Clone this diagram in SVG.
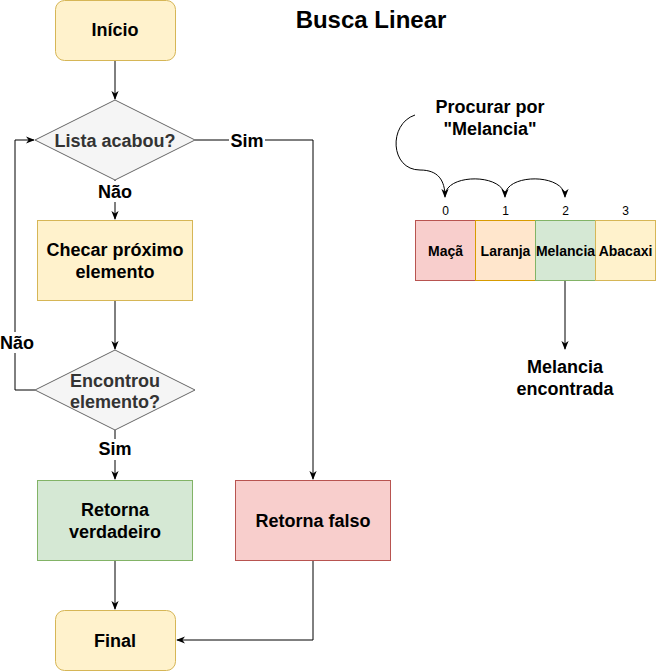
<svg xmlns="http://www.w3.org/2000/svg" width="657" height="672" viewBox="0 0 657 672">
<style>
text{font-family:"Liberation Sans",Arial,Helvetica,sans-serif;font-weight:bold;font-size:18px;fill:#000;text-anchor:middle}
.dark{fill:#333333}
.small{font-size:14px}
.idx{font-size:12px;font-weight:normal}
.title{font-size:24px}
.yel{fill:#fff2cc;stroke:#d6b656;stroke-width:1}
.gry{fill:#f5f5f5;stroke:#666666;stroke-width:1}
.grn{fill:#d5e8d4;stroke:#82b366;stroke-width:1}
.red{fill:#f8cecc;stroke:#b85450;stroke-width:1}
.org{fill:#ffe6cc;stroke:#d79b00;stroke-width:1}
.edge{fill:none;stroke:#000;stroke-width:1;marker-end:url(#arr)}
.lbl{fill:#fff;stroke:none}
</style>
<defs>
<marker id="arr" viewBox="0 0 10 10" refX="9" refY="5" markerWidth="9" markerHeight="9" markerUnits="userSpaceOnUse" orient="auto">
<path d="M0,1 L10,5 L0,9 L3,5 Z" fill="#000"/>
</marker>
</defs>
<rect width="657" height="672" fill="#fff"/>
<text class="title" x="371" y="28">Busca Linear</text>
<g id="connectors">
<path class="edge" d="M115,60 L115,99"/>
<path class="edge" d="M115,180 L115,219"/>
<path class="edge" d="M115,300 L115,349"/>
<path class="edge" d="M115,430 L115,479"/>
<path class="edge" d="M115,560 L115,609"/>
<path class="edge" d="M195,140 L313,140 L313,479"/>
<path class="edge" d="M313,560 L313,640 L177,640"/>
<path class="edge" d="M35,390 L15,390 L15,140 L34,140"/>
<path class="edge" d="M415,115 C388,124 390,170 420,170 C438,170 445,180 445,197"/>
<path class="edge" d="M445,196 C445,173 505,173 505,197"/>
<path class="edge" d="M505,196 C505,173 565,173 565,197"/>
<path class="edge" d="M565,280 L565,349"/>
<rect class="lbl" x="97" y="181" width="36" height="21"/>
<text x="115" y="198">Não</text>
<rect class="lbl" x="229" y="130" width="36" height="21"/>
<text x="247" y="147">Sim</text>
<rect class="lbl" x="0" y="332" width="34" height="21"/>
<text x="17" y="349">Não</text>
<rect class="lbl" x="98" y="439" width="34" height="21"/>
<text x="115" y="455">Sim</text>
</g>
<g id="inicio"><rect class="yel" x="55.5" y="0.5" width="120" height="60" rx="9"/><text x="115" y="36">Início</text></g>
<g id="lista"><path class="gry" d="M115,100 L195,140 L115,180 L35,140 Z"/><text class="dark" x="115" y="146.5">Lista acabou?</text></g>
<g id="checar"><rect class="yel" x="37.5" y="220.5" width="155" height="80"/><text x="115" y="256">Checar próximo</text><text x="115" y="278">elemento</text></g>
<g id="encontrou"><path class="gry" d="M115,350 L195,390 L115,430 L35,390 Z"/><text class="dark" x="115" y="386.5">Encontrou</text><text class="dark" x="115" y="408">elemento?</text></g>
<g id="verdadeiro"><rect class="grn" x="37.5" y="480.5" width="155" height="80"/><text x="115" y="516">Retorna</text><text x="115" y="538">verdadeiro</text></g>
<g id="falso"><rect class="red" x="235.5" y="480.5" width="155" height="80"/><text x="313" y="526.5">Retorna falso</text></g>
<g id="final"><rect class="yel" x="55.5" y="610.5" width="120" height="60" rx="9"/><text x="115" y="646.5">Final</text></g>
<g id="procurar"><text x="490" y="113">Procurar por</text><text x="490" y="135">"Melancia"</text></g>
<g id="array">
<rect class="red" x="415.5" y="220.5" width="60" height="60"/>
<rect class="org" x="475.5" y="220.5" width="60" height="60"/>
<rect class="grn" x="535.5" y="220.5" width="60" height="60"/>
<rect class="yel" x="595.5" y="220.5" width="60" height="60"/>
<text class="small" x="445.5" y="255.5">Maçã</text>
<text class="small" x="505.5" y="255.5">Laranja</text>
<text class="small" x="565.5" y="255.5">Melancia</text>
<text class="small" x="625.5" y="255.5">Abacaxi</text>
<text class="idx" x="445.5" y="215">0</text>
<text class="idx" x="505.5" y="215">1</text>
<text class="idx" x="565.5" y="215">2</text>
<text class="idx" x="625.5" y="215">3</text>
</g>
<g id="encontrada"><text x="565" y="373">Melancia</text><text x="565" y="395">encontrada</text></g>
</svg>
